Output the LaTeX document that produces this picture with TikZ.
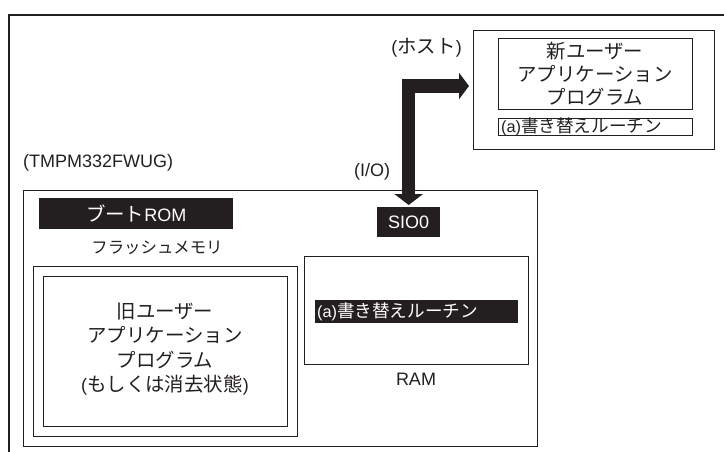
\documentclass[tikz,border=0pt]{standalone}
\usepackage{fontspec}
\setmainfont{Liberation Sans}
\newfontfamily\jp{Noto Sans CJK JP}[Scale=1.08]
\usetikzlibrary{arrows.meta}
\definecolor{ink}{HTML}{231F20}
\begin{document}
\begin{tikzpicture}[x=1pt,y=-1pt,
  box/.style={draw=ink,line width=1.3pt,inner sep=0pt,anchor=north west},
  inv/.style={fill=ink,draw=none,inner sep=0pt,anchor=north west},
  txt/.style={font=\fontsize{18}{23}\selectfont,inner sep=0pt,align=center,text=ink},
  small/.style={font=\fontsize{16.3}{20}\selectfont},
  bigarrow/.style={draw=ink,line width=13.5pt,line join=miter,
    {Triangle[width=28pt,length=11pt]}-{Triangle[width=26pt,length=10pt]}}]
\useasboundingbox (0,0) rectangle (724,452);
% outer frame (cut off on right and bottom)
\draw[ink,line width=1.5pt] (9,452) -- (9,15) -- (724,15);
% host
\node[box,minimum width=241pt,minimum height=119pt] (host) at (473,30) {};
\node[box,minimum width=194pt,minimum height=71pt] (newprog) at (498,38) {};
\node[txt,font=\fontsize{18}{23}\selectfont\jp] (newtxt) at (595,74.5) {新ユーザー\\アプリケーション\\プログラム};
\node[box,minimum width=194pt,minimum height=17pt] (hostrt) at (498,118) {};
\node[txt,small,anchor=west] (hostrttxt) at (501,127) {(a){\jp 書き替えルーチン}};
\node[txt,anchor=east] (hostlbl) at (462,48) {({\jp ホスト})};
% chip
\node[txt,anchor=west] (chiplbl) at (23,163) {(TMPM332FWUG)};
\node[txt] (iolbl) at (372,172) {(I/O)};
\node[box,minimum width=514pt,minimum height=256pt] (chip) at (23,190) {};
\node[inv,minimum width=194pt,minimum height=31pt] (boot) at (39,198) {};
\node[txt,text=white] (boottxt) at (boot.center) {{\jp ブート}ROM};
\node[txt,font=\fontsize{15.2}{18}\selectfont\jp] (flashlbl) at (157,248) {フラッシュメモリ};
\node[box,minimum width=264pt,minimum height=170pt] (flash) at (33,266) {};
\node[box,minimum width=244pt,minimum height=150pt] (flashin) at (43,276) {};
\node[txt,font=\fontsize{18}{24.5}\selectfont] (oldtxt) at (165,349) {{\jp 旧ユーザー}\\{\jp アプリケーション}\\{\jp プログラム}\\({\jp もしくは消去状態})};
\node[inv,minimum width=63pt,minimum height=30pt] (sio) at (377,207) {};
\node[txt,text=white] (siotxt) at (sio.center) {SIO0};
\node[box,minimum width=224pt,minimum height=108pt] (ram) at (304,256) {};
\node[inv,minimum width=203pt,minimum height=23pt] (ramrt) at (315,300) {};
\node[txt,small,text=white,anchor=west] (ramrttxt) at (317,311.5) {(a){\jp 書き替えルーチン}};
\node[txt] (ramlbl) at (416,379) {RAM};
% connector
\coordinate (hin) at (469,86);
\draw[bigarrow] ([yshift=2pt]sio.north) |- (hin);
\end{tikzpicture}
\end{document}
